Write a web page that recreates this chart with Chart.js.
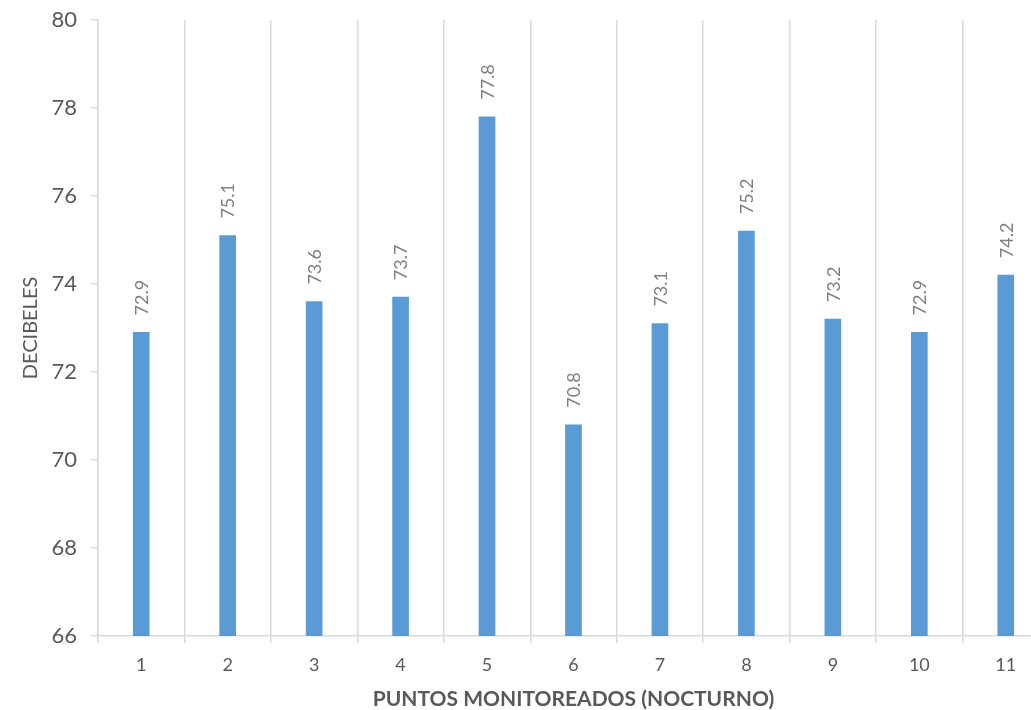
<!DOCTYPE html>
<html>
<head>
<meta charset="utf-8">
<script src="https://cdn.jsdelivr.net/npm/chart.js@4/dist/chart.umd.min.js"></script>
<style>
  html, body { margin: 0; padding: 0; background: #ffffff; overflow: hidden; }
  #wrap { position: relative; width: 1049px; height: 710px; }
</style>
</head>
<body>
<div id="wrap"><canvas id="c"></canvas></div>
<script>
const categories = ['1', '2', '3', '4', '5', '6', '7', '8', '9', '10', '11'];
const decibeles = [72.9, 75.1, 73.6, 73.7, 77.8, 70.8, 73.1, 75.2, 73.2, 72.9, 74.2];
const yMin = 66, yMax = 80, yStep = 2;
const xTitle = 'PUNTOS MONITOREADOS (NOCTURNO)';
const yTitle = 'DECIBELES';

const FONT = 'Lato, "Open Sans", sans-serif';
const gridColor = '#d9d9d9';
const textColor = '#595959';

const valueLabels = {
  id: 'valueLabels',
  afterDatasetsDraw(chart) {
    const ctx = chart.ctx;
    const meta = chart.getDatasetMeta(0);
    ctx.save();
    ctx.font = '18px ' + FONT;
    ctx.fillStyle = '#7f7f7f';
    ctx.textAlign = 'left';
    ctx.textBaseline = 'middle';
    meta.data.forEach((bar, i) => {
      const v = chart.data.datasets[0].data[i];
      ctx.save();
      ctx.translate(bar.x + 1, bar.y - 17);
      ctx.rotate(-Math.PI / 2);
      ctx.fillText(v.toFixed(1), 0, 0);
      ctx.restore();
    });
    ctx.restore();
  }
};

new Chart(document.getElementById('c'), {
  type: 'bar',
  data: {
    labels: categories,
    datasets: [{
      data: decibeles,
      backgroundColor: '#5b9bd5',
      borderWidth: 0,
      barThickness: 16
    }]
  },
  options: {
    responsive: true,
    maintainAspectRatio: false,
    animation: false,
    layout: { padding: { top: 20, right: 0, bottom: 0, left: 0 } },
    plugins: {
      legend: { display: false },
      tooltip: { enabled: false }
    },
    scales: {
      x: {
        grid: {
          offset: true,
          color: gridColor,
          lineWidth: 1.5,
          drawOnChartArea: true,
          drawTicks: true,
          tickLength: 7
        },
        border: { display: true, color: gridColor, width: 1.5 },
        ticks: {
          color: textColor,
          font: { family: FONT, size: 18 },
          padding: 11,
          maxRotation: 0,
          autoSkip: false
        },
        title: {
          display: true,
          text: xTitle,
          color: textColor,
          font: { family: FONT, size: 21, weight: 'bold' },
          padding: { top: 0, bottom: -2 }
        },
        afterFit(scale) {
          scale.height = 74;
          scale.paddingLeft = 0;
          scale.paddingRight = 0;
        }
      },
      y: {
        min: yMin,
        max: yMax,
        ticks: {
          stepSize: yStep,
          color: textColor,
          font: { family: FONT, size: 22 },
          padding: 14
        },
        grid: {
          drawOnChartArea: false,
          drawTicks: true,
          tickLength: 7,
          color: gridColor,
          lineWidth: 1.5
        },
        border: { display: true, color: gridColor, width: 1.5 },
        title: {
          display: true,
          text: yTitle,
          color: textColor,
          font: { family: FONT, size: 20 },
          padding: { top: 19, bottom: 0 }
        },
        afterFit(scale) {
          scale.width = 98;
          scale.paddingTop = 0;
          scale.paddingBottom = 0;
        }
      }
    }
  },
  plugins: [valueLabels]
});
</script>
</body>
</html>
